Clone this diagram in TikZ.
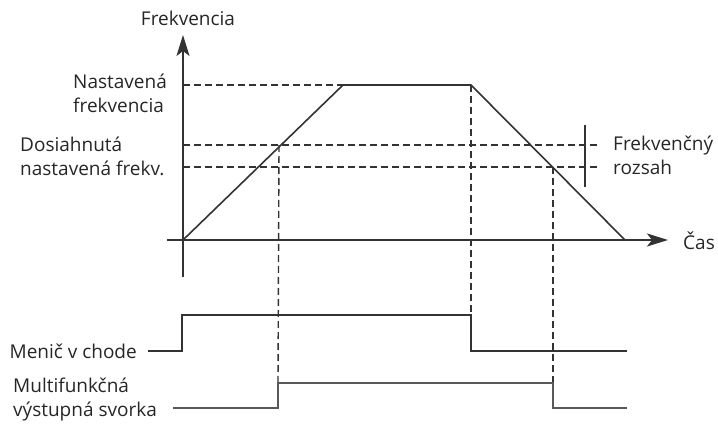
\documentclass[tikz,border=0pt]{standalone}
\usepackage{fontspec}
\setmainfont{Open Sans}
\usetikzlibrary{arrows.meta}
\begin{document}
\begin{tikzpicture}[x=1pt,y=-1pt,
  lbl/.style={inner sep=0pt,font=\fontsize{19}{24}\selectfont,text=black!85},
  solidline/.style={draw=black!80,line width=1.6pt},
  dashline/.style={draw=black!80,line width=1.4pt,dash pattern=on 7pt off 4pt},
  axis/.style={draw=black!80,line width=1.6pt,-{Stealth[length=21pt,width=13pt,inset=5pt]}}]
\useasboundingbox (0,0) rectangle (718,425);
% coordinates
\coordinate (o) at (183,240);
\coordinate (ytop) at (183,35);
\coordinate (ybot) at (183,277);
\coordinate (xl) at (167,240);
\coordinate (xr) at (668,240);
\coordinate (p1) at (343,85);
\coordinate (p2) at (471,85);
\coordinate (pend) at (625,240);
\coordinate (a1) at (279,145);
\coordinate (d2) at (553,167);
\coordinate (l1r) at (600,145);
\coordinate (l2r) at (600,167);
\coordinate (l1l) at (183,145);
\coordinate (l2l) at (183,167);
\coordinate (nl) at (183,85);
\coordinate (tickt) at (585,125);
\coordinate (tickb) at (585,187);
% signals
\coordinate (m0) at (148,351);
\coordinate (m1) at (182,351);
\coordinate (m2) at (182,315);
\coordinate (m3) at (471,315);
\coordinate (m4) at (471,351);
\coordinate (m5) at (627,351);
\coordinate (f0) at (173,408);
\coordinate (f1) at (278,408);
\coordinate (f2) at (278,383);
\coordinate (f3) at (553,383);
\coordinate (f4) at (553,408);
\coordinate (f5) at (627,408);
% dashed
\draw[dashline] (nl) -- (p1);
\draw[dashline] (l1l) -- (l1r);
\draw[dashline] (l2l) -- (l2r);
\draw[dashline] (a1) -- (f2);
\draw[dashline] (p2) -- (m3);
\draw[dashline] (d2) -- (f3);
% axes
\draw[axis] (ybot) -- (ytop);
\draw[axis] (xl) -- (xr);
% curve
\draw[solidline,line join=miter] (o) -- (p1) -- (p2) -- (pend);
\draw[draw=black!80,line width=1.3pt] (tickt) -- (tickb);
% signals
\draw[solidline] (m0) -- (m1) -- (m2) -- (m3) -- (m4) -- (m5);
\draw[solidline,draw=black!65] (f0) -- (f1) -- (f2) -- (f3) -- (f4) -- (f5);
% labels
\node[lbl,anchor=center] (tfreq) at (188,18) {Frekvencia};
\node[lbl,anchor=west] (tcas) at (683,241) {Čas};
\node[lbl,anchor=west,align=left] (tnast) at (73,93) {Nastavená\\frekvencia};
\node[lbl,anchor=west,align=left] (tdos) at (20,156) {Dosiahnutá\\nastavená frekv.};
\node[lbl,anchor=west,align=left] (trozs) at (613,155) {Frekvenčný\\rozsah};
\node[lbl,anchor=east] (tmen) at (137,351) {Menič v chode};
\node[lbl,anchor=west,align=left] (tmfo) at (13,400) {Multifunkčná\\výstupná svorka};
\end{tikzpicture}
\end{document}
